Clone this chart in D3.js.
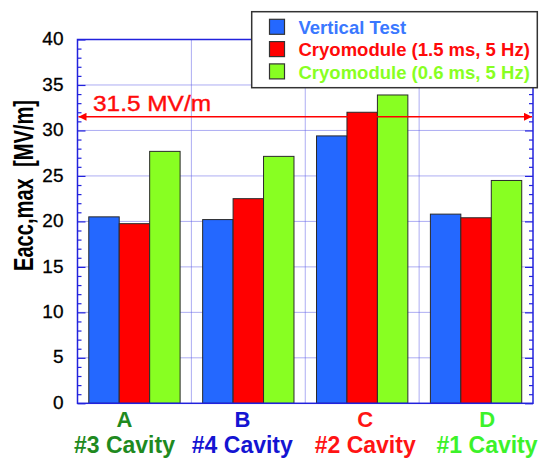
<!DOCTYPE html>
<html>
<head>
<meta charset="utf-8">
<script src="https://cdn.jsdelivr.net/npm/d3@7"></script>
<style>
  html, body { margin: 0; padding: 0; background: #fff; }
  svg { display: block; font-family: "Liberation Sans", Arial, sans-serif; }
</style>
</head>
<body>
<svg id="chart" width="541" height="460"></svg>
<script>
// Maximum accelerating gradient per cavity
const categories = ["A", "B", "C", "D"];
const cavityNames = ["#3 Cavity", "#4 Cavity", "#2 Cavity", "#1 Cavity"];
const seriesNames = ["Vertical Test", "Cryomodule (1.5 ms, 5 Hz)", "Cryomodule (0.6 ms, 5 Hz)"];
const verticalTest = [20.5, 20.2, 29.4, 20.8];
const cryoLong = [19.75, 22.5, 32.0, 20.4];
const cryoShort = [27.7, 27.15, 33.9, 24.5];
const yTicks = [0, 5, 10, 15, 20, 25, 30, 35, 40];
const specLimit = 31.5;
const specLabel = "31.5 MV/m";

const seriesColors = ["#2468ff", "#ff0000", "#88ff22"];
const legendTextColors = ["#3a78ff", "#ff0a0a", "#88ff22"];
const categoryColors = ["#1f8a1f", "#1414d2", "#ff1414", "#3cf22a"];

const svg = d3.select("#chart");
const plotL = 77.5, plotR = 533, plotT = 39.5, plotB = 403.3;

const x0 = d3.scaleBand().domain(categories).range([plotL, plotR]).paddingInner(0).paddingOuter(0);
const x1 = d3.scaleBand().domain(d3.range(3)).range([0, x0.bandwidth()]).paddingInner(0).paddingOuter(0.37);
const y = d3.scaleLinear().domain([0, 40]).range([plotB, plotT]);

const gridColor = "#5a5ae6";
const axisColor = "#2222dd";

// dotted grid
const grid = svg.append("g");
grid.selectAll("line.h").data(yTicks.filter(t => t > 0 && t < 40)).join("line").attr("class", "h")
  .attr("x1", plotL).attr("x2", plotR)
  .attr("y1", d => y(d)).attr("y2", d => y(d))
  .attr("stroke", gridColor).attr("stroke-width", 1).attr("stroke-dasharray", "1,1");
grid.selectAll("line.v").data(categories.slice(1)).join("line").attr("class", "v")
  .attr("x1", d => x0(d)).attr("x2", d => x0(d))
  .attr("y1", plotT).attr("y2", plotB)
  .attr("stroke", gridColor).attr("stroke-width", 1).attr("stroke-dasharray", "1,1");

// bars
const rows = categories.map((c, i) => ({ c, vals: [verticalTest[i], cryoLong[i], cryoShort[i]] }));
const groups = svg.append("g").selectAll("g").data(rows).join("g")
  .attr("transform", d => `translate(${x0(d.c)},0)`);
groups.selectAll("rect").data(d => d.vals.map((v, k) => ({ v, k }))).join("rect")
  .attr("x", d => x1(d.k)).attr("width", x1.bandwidth())
  .attr("y", d => y(d.v)).attr("height", d => y(0) - y(d.v))
  .attr("fill", d => seriesColors[d.k])
  .attr("stroke", "#2a2a2a").attr("stroke-width", 1);

// axis frame with inward ticks (major every 5, minor every 1)
const minorTicks = d3.range(0, 41, 1);
const leftAxis = d3.axisRight(y).tickValues(minorTicks).tickSizeInner(4).tickSizeOuter(0).tickFormat("");
const rightAxis = d3.axisLeft(y).tickValues(minorTicks).tickSizeInner(4).tickSizeOuter(0).tickFormat("");
const gl = svg.append("g").attr("transform", `translate(${plotL},0)`).call(leftAxis);
const gr = svg.append("g").attr("transform", `translate(${plotR},0)`).call(rightAxis);
[gl, gr].forEach((g, side) => {
  g.select(".domain").remove();
  g.selectAll(".tick line").attr("stroke", axisColor).attr("stroke-width", 1.2)
    .attr("x2", d => (d % 5 === 0 ? 8 : 4) * (side === 0 ? 1 : -1));
});
svg.append("rect").attr("x", plotL).attr("y", plotT).attr("width", plotR - plotL).attr("height", plotB - plotT)
  .attr("fill", "none").attr("stroke", axisColor).attr("stroke-width", 1.5);

// y tick labels
svg.append("g").selectAll("text").data(yTicks).join("text")
  .attr("x", 63.5).attr("y", d => y(d) - 1).attr("dy", "0.35em")
  .attr("text-anchor", "end").attr("font-size", 19).attr("fill", "#000")
  .attr("stroke", "#000").attr("stroke-width", 0.3)
  .text(d => d);

// y axis title
svg.append("text")
  .attr("transform", "translate(33,185.5) rotate(-90)")
  .attr("text-anchor", "middle").attr("font-size", 27).attr("font-weight", "bold")
  .attr("textLength", 171).attr("lengthAdjust", "spacingAndGlyphs")
  .text("Eacc,max\u00a0\u00a0[MV/m]");

// category labels
const labelNudge = [-10, -6, 3, 11];
const cats = svg.append("g").selectAll("g").data(categories).join("g")
  .attr("transform", (d, i) => `translate(${x0(d) + x0.bandwidth() / 2 + labelNudge[i]},0)`)
  .attr("fill", (d, i) => categoryColors[i]).attr("font-weight", "bold").attr("text-anchor", "middle");
cats.append("text").attr("y", 427).attr("font-size", 22).text(d => d);
cats.append("text").attr("y", 453.3).attr("font-size", 23).text((d, i) => cavityNames[i]);

// spec line with arrows
const defs = svg.append("defs");
defs.append("marker").attr("id", "arr").attr("viewBox", "0 0 10 10")
  .attr("refX", 10).attr("refY", 5).attr("markerWidth", 11).attr("markerHeight", 8)
  .attr("markerUnits", "userSpaceOnUse").attr("orient", "auto-start-reverse")
  .append("path").attr("d", "M0,0 L10,5 L0,10 Z").attr("fill", "#ff0000");
svg.append("line")
  .attr("x1", plotL + 1).attr("x2", plotR - 1)
  .attr("y1", y(specLimit)).attr("y2", y(specLimit))
  .attr("stroke", "#ff0000").attr("stroke-width", 1.5)
  .attr("marker-start", "url(#arr)").attr("marker-end", "url(#arr)");
svg.append("text").attr("x", 93).attr("y", 111)
  .attr("font-size", 22).attr("fill", "#ff0a0a")
  .attr("stroke", "#ff0a0a").attr("stroke-width", 0.4)
  .attr("textLength", 118).attr("lengthAdjust", "spacingAndGlyphs")
  .text(specLabel);

// legend
const lg = svg.append("g");
lg.append("rect").attr("x", 251.7).attr("y", 11.7).attr("width", 285.6).attr("height", 76)
  .attr("fill", "#fff").attr("stroke", "#333").attr("stroke-width", 1.5);
const items = lg.selectAll("g").data(seriesNames).join("g")
  .attr("transform", (d, i) => `translate(0,${i * 22.3})`);
items.append("rect").attr("x", 269.5).attr("y", 19.3).attr("width", 15).attr("height", 15)
  .attr("fill", (d, i) => seriesColors[i]).attr("stroke", "#333").attr("stroke-width", 1.2);
items.append("text").attr("x", 298.5).attr("y", 34)
  .attr("font-size", 18.5).attr("font-weight", "bold")
  .attr("fill", (d, i) => legendTextColors[i]).text(d => d);
</script>
</body>
</html>
